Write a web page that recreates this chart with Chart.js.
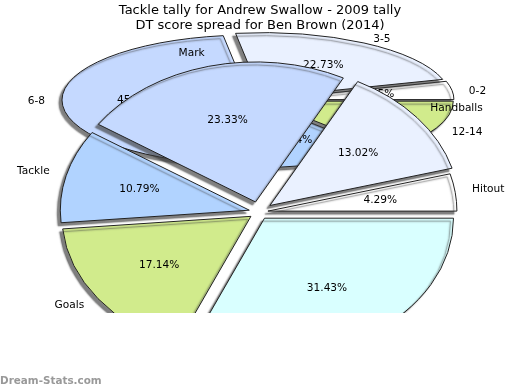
<!DOCTYPE html>
<html>
<head>
<meta charset="utf-8">
<script src="https://cdn.jsdelivr.net/npm/chart.js@4.4.1/dist/chart.umd.min.js"></script>
<style>
    html, body { margin: 0; padding: 0; background: #fff; }
    #wrap { position: relative; width: 520px; height: 390px; }
    #wrap canvas { position: absolute; left: 0; top: 0; }
</style>
</head>
<body>
<div id="wrap">
    <canvas id="dtChart" width="520" height="390"></canvas>
    <canvas id="tackleChart" width="520" height="390"></canvas>
</div>
<script>
// 앞쪽 파이 : 태클 집계
const tackleLabels = ["Hitout", "Handballs", "Mark", "Tackle", "Goals", "Kicks"];
const tackleValues = [4.29, 13.02, 23.33, 10.79, 17.14, 31.43];

// 뒤쪽 파이 : DT 점수 분포
const dtLabels = ["0-2", "3-5", "6-8", "9-11", "12-14"];
const dtValues = [1, 5, 10, 3, 3];

const titleLines = ["Tackle tally for Andrew Swallow - 2009 tally", "DT score spread for Ben Brown (2014)"];

const colors = ['#ffffff', '#eaf1ff', '#c5d9ff', '#b1d3ff', '#d1eb8c', '#d9ffff'];

const FONT = '"DejaVu Sans", sans-serif';

// 타원형 파이 + 조각 분리 + 그림자 + 라벨
const ovalPie = {
    id: 'ovalPie',
    afterUpdate(chart, args, o) {
        const meta = chart.getDatasetMeta(0);
        const a0 = meta.data[0];
        chart.$pieCenter = { x: a0.x, y: a0.y };
        const s = o.rx / a0.outerRadius;
        // 조각을 바깥쪽으로 밀기 (반지름은 그대로)
        meta.data.forEach((arc, i) => {
            const mid = (arc.startAngle + arc.endAngle) / 2;
            const e = (o.explode[i] || 0) / s;
            arc.x += Math.cos(mid) * e;
            arc.y += Math.sin(mid) * e;
        });
    },
    beforeDatasetsDraw(chart, args, o) {
        const ctx = chart.ctx;
        const arc = chart.getDatasetMeta(0).data[0];
        const c0 = chart.$pieCenter;
        const s = o.rx / arc.outerRadius;
        ctx.save();
        ctx.beginPath();
        ctx.rect(0, 0, chart.width, o.clipY);
        ctx.clip();
        const base = ctx.getTransform();
        ctx.save();
        ctx.translate(o.cx, o.cy);
        ctx.scale(s, -s * o.ry / o.rx);   // 세로 뒤집기 -> 반시계 방향
        ctx.translate(-c0.x, -c0.y);
        ctx.shadowColor = 'rgba(60, 60, 60, 0.65)';
        ctx.shadowOffsetX = -3;
        ctx.shadowOffsetY = 3;
        ctx.shadowBlur = 1.5;
        // 테두리는 변환 없이 1px
        const stroke = CanvasRenderingContext2D.prototype.stroke;
        ctx.stroke = function () {
            this.save();
            this.setTransform(base);
            stroke.call(this);
            this.restore();
        };
    },
    afterDatasetsDraw(chart, args, o) {
        const ctx = chart.ctx;
        delete ctx.stroke;
        ctx.restore();

        const meta = chart.getDatasetMeta(0);
        const data = chart.data.datasets[0].data;
        const total = data.reduce((a, b) => a + b, 0);
        const k = o.ry / o.rx;

        ctx.font = '10.6px ' + FONT;
        ctx.fillStyle = '#000';
        ctx.textBaseline = 'middle';
        meta.data.forEach((arc, i) => {
            const mid = (arc.startAngle + arc.endAngle) / 2;
            const e = o.explode[i] || 0;
            const c = Math.cos(mid), sn = -Math.sin(mid);
            const place = r => [o.cx + c * (r + e), o.cy + sn * (r + e) * k];

            const pct = (data[i] / total * 100).toFixed(2) + '%';
            const [px, py] = place(o.rx * 0.6);
            ctx.textAlign = 'center';
            ctx.fillText(pct, px, py);

            const [lx, ly] = place(o.rx + 17);
            ctx.textAlign = c >= 0 ? 'left' : 'right';
            ctx.fillText(chart.data.labels[i], lx, ly + o.labelDy);
        });
        ctx.restore();
    }
};

const watermark = {
    id: 'watermark',
    afterDraw(chart) {
        const ctx = chart.ctx;
        ctx.save();
        ctx.font = 'bold 10.4px ' + FONT;
        ctx.fillStyle = '#999';
        ctx.textAlign = 'left';
        ctx.textBaseline = 'alphabetic';
        ctx.fillText('Dream-Stats.com', 0, 384);
        ctx.restore();
    }
};

function pieOptions(oval, withTitle) {
    return {
        responsive: false,
        animation: false,
        devicePixelRatio: 1,
        events: [],
        rotation: 90,
        layout: { padding: 0 },
        plugins: {
            legend: { display: false },
            tooltip: { enabled: false },
            title: {
                display: withTitle,
                text: titleLines,
                color: '#000',
                font: { family: FONT, size: 13, weight: 'normal', lineHeight: 1.15 },
                padding: { top: 3, bottom: 4 }
            },
            ovalPie: oval
        }
    };
}

// 뒤쪽 : DT 점수
new Chart(document.getElementById('dtChart').getContext('2d'), {
    type: 'pie',
    data: {
        labels: dtLabels,
        datasets: [{
            data: dtValues,
            backgroundColor: colors.slice(0, dtValues.length),
            borderColor: '#222',
            borderWidth: 1,
            clip: false
        }]
    },
    options: pieOptions({ cx: 258, cy: 100, rx: 188, ry: 65, clipY: 313, labelDy: 1.5, explode: [8, 8, 8, 8, 8] }, false),
    plugins: [ovalPie]
});

// 앞쪽 : 태클 집계
new Chart(document.getElementById('tackleChart').getContext('2d'), {
    type: 'pie',
    data: {
        labels: tackleLabels,
        datasets: [{
            data: tackleValues,
            backgroundColor: colors.slice(0, tackleValues.length),
            borderColor: '#222',
            borderWidth: 1,
            clip: false
        }]
    },
    options: pieOptions({ cx: 259, cy: 212, rx: 189, ry: 140, clipY: 313, labelDy: -1, explode: [9, 14, 14, 10, 10, 10] }, true),
    plugins: [ovalPie, watermark]
});
</script>
</body>
</html>
